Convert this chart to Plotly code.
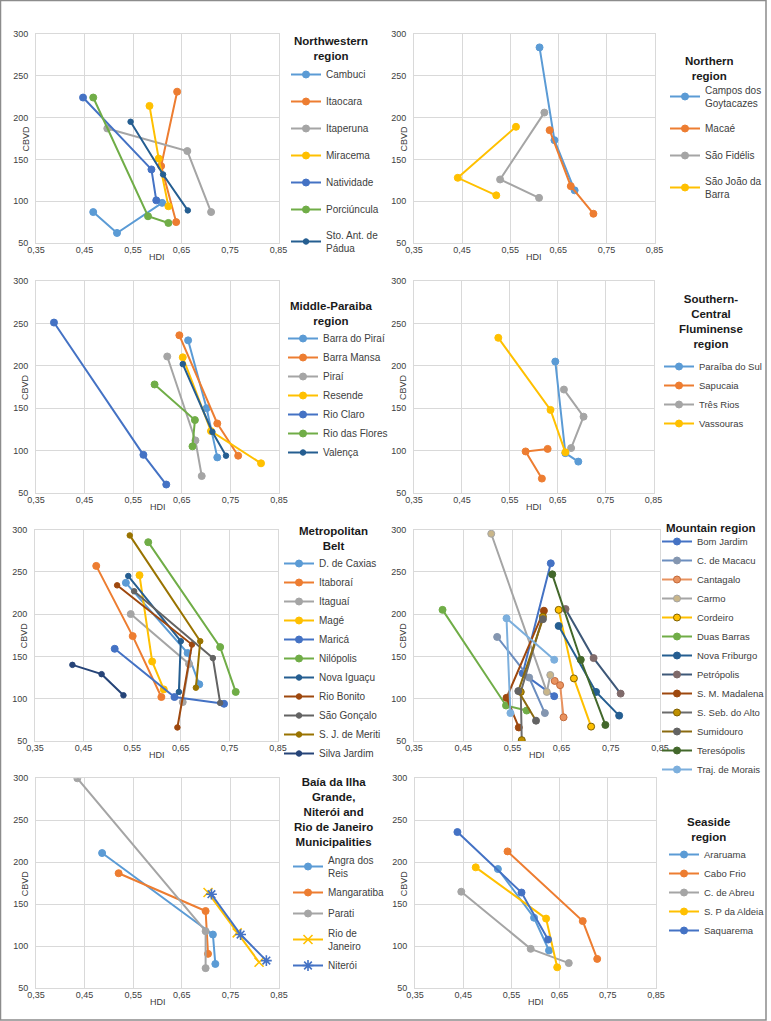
import plotly.graph_objects as go

# ---------------- data (HDI on x, CBVD on y; 3 points per municipality) ----------------
nw_names = ["Cambuci", "Itaocara", "Itaperuna", "Miracema", "Natividade", "Porciúncula", "Sto. Ant. de<br>Pádua"]
nw_hdi = [[0.468, 0.517, 0.610], [0.641, 0.608, 0.639], [0.497, 0.662, 0.711], [0.584, 0.603, 0.623],
          [0.447, 0.588, 0.598], [0.468, 0.581, 0.623], [0.545, 0.612, 0.663]]
nw_cbvd = [[87, 62, 98], [231, 142, 75], [187, 160, 87], [214, 151, 94],
           [224, 138, 101], [224, 82, 74], [195, 132, 89]]

no_names = ["Campos dos<br>Goytacazes", "Macaé", "São Fidélis", "São João da<br>Barra"]
no_hdi = [[0.611, 0.642, 0.684], [0.632, 0.676, 0.723], [0.621, 0.529, 0.610], [0.562, 0.441, 0.521]]
no_cbvd = [[284, 173, 113], [185, 118, 85], [206, 126, 104], [189, 128, 107]]

mp_names = ["Barra do Piraí", "Barra Mansa", "Piraí", "Resende", "Rio Claro", "Rio das Flores", "Valença"]
mp_hdi = [[0.663, 0.701, 0.723], [0.645, 0.723, 0.766], [0.620, 0.678, 0.691], [0.652, 0.710, 0.813],
          [0.387, 0.571, 0.618], [0.594, 0.677, 0.672], [0.652, 0.713, 0.741]]
mp_cbvd = [[230, 150, 92], [236, 132, 94], [211, 112, 70], [210, 123, 85],
           [251, 95, 60], [178, 136, 105], [202, 122, 94]]

sc_names = ["Paraíba do Sul", "Sapucaia", "Três Rios", "Vassouras"]
sc_hdi = [[0.645, 0.666, 0.693], [0.629, 0.583, 0.617], [0.663, 0.704, 0.678], [0.526, 0.635, 0.666]]
sc_cbvd = [[205, 97, 87], [102, 99, 67], [172, 140, 103], [233, 148, 98]]

mb_names = ["D. de Caxias", "Itaboraí", "Itaguaí", "Magé", "Maricá", "Nilópolis", "Nova Iguaçu",
            "Rio Bonito", "São Gonçalo", "S. J. de Meriti", "Silva Jardim"]
mb_hdi = [[0.537, 0.664, 0.688], [0.476, 0.551, 0.610], [0.547, 0.667, 0.654], [0.565, 0.591, 0.615],
          [0.514, 0.637, 0.739], [0.583, 0.731, 0.763], [0.542, 0.650, 0.646], [0.519, 0.673, 0.643],
          [0.554, 0.716, 0.731], [0.545, 0.690, 0.681], [0.427, 0.487, 0.532]]
mb_cbvd = [[237, 154, 117], [257, 174, 102], [200, 141, 96], [246, 144, 111], [159, 102, 94],
           [285, 161, 108], [245, 168, 108], [234, 164, 66], [227, 148, 95], [293, 168, 113],
           [140, 129, 104]]

mt_names = ["Bom Jardim", "C. de Macacu", "Cantagalo", "Carmo", "Cordeiro", "Duas Barras", "Nova Friburgo",
            "Petrópolis", "S. M. Madalena", "S. Seb. do Alto", "Sumidouro", "Teresópolis", "Traj. de Morais"]
mt_hdi = [[0.628, 0.571, 0.635], [0.519, 0.584, 0.616], [0.636, 0.647, 0.654], [0.507, 0.620, 0.627],
          [0.644, 0.675, 0.710], [0.408, 0.537, 0.579], [0.644, 0.720, 0.767], [0.658, 0.715, 0.770],
          [0.614, 0.538, 0.563], [0.612, 0.567, 0.569], [0.612, 0.562, 0.598], [0.631, 0.689, 0.739],
          [0.546, 0.538, 0.635]]
mt_cbvd = [[260, 130, 103], [173, 125, 83], [121, 116, 78], [295, 108, 128], [205, 124, 67],
           [205, 92, 86], [186, 108, 80], [206, 148, 106], [204, 101, 66], [197, 108, 51],
           [194, 109, 74], [247, 146, 69], [83, 195, 146]]

bg_names = ["Angra dos<br>Reis", "Mangaratiba", "Parati", "Rio de<br>Janeiro", "Niterói"]
bg_hdi = [[0.486, 0.714, 0.719], [0.520, 0.699, 0.704], [0.435, 0.699, 0.699],
          [0.704, 0.764, 0.809], [0.711, 0.771, 0.824]]
bg_cbvd = [[211, 114, 79], [187, 142, 91], [300, 118, 74], [164, 116, 81], [162, 114, 83]]

ss_names = ["Araruama", "Cabo Frio", "C. de Abreu", "S. P da Aldeia", "Saquarema"]
ss_hdi = [[0.522, 0.597, 0.628], [0.542, 0.698, 0.728], [0.446, 0.590, 0.669],
          [0.476, 0.622, 0.645], [0.438, 0.571, 0.626]]
ss_cbvd = [[192, 134, 95], [213, 130, 85], [165, 97, 80], [194, 133, 75], [236, 164, 108]]

x_ticks = [0.35, 0.45, 0.55, 0.65, 0.75, 0.85]
x_ticktext = ["0,35", "0,45", "0,55", "0,65", "0,75", "0,85"]
y_ticks = [50, 100, 150, 200, 250, 300]

# ---------------- styles ----------------
BASE = ["#5B9BD5", "#ED7D31", "#A5A5A5", "#FFC000", "#4472C4", "#70AD47"]
DARK = ["#255E91", "#9E480E", "#636363", "#997300", "#264478", "#43682B"]
MT_LINE = ["#4472C4", "#6C8EBF", "#E8925F", "#A5A5A5", "#FFC000", "#70AD47", "#255E91",
           "#3E5878", "#9E480E", "#6B6B6B", "#8A6A10", "#43682B", "#7CAFDD"]
MT_MARK = ["#4472C4", "#8496B0", "#E8925F", "#C9B68A", "#FFC000", "#70AD47", "#255E91",
           "#7F6A6A", "#9E480E", "#BF9000", "#636363", "#43682B", "#7CAFDD"]
MT_EDGE = ["#4472C4", "#8496B0", "#C46A3A", "#A5A5A5", "#7F6000", "#70AD47", "#255E91",
           "#7F6A6A", "#9E480E", "#7F6000", "#636363", "#43682B", "#7CAFDD"]

W, H = 771, 1021
FONT = "Liberation Sans, Arial, sans-serif"
TXT = "#404040"


def px(v):
    return v / W


def py(v):
    return 1 - v / H


panels = [
    dict(n=nw_names, x=nw_hdi, y=nw_cbvd, lc=BASE + DARK[:1], xd=(36, 278.5), yd=(34, 243),
         title="Northwestern<br>region", tpos=(331, 49), lpos=(286, 60), gap=8, lf=10),
    dict(n=no_names, x=no_hdi, y=no_cbvd, lc=BASE[:4], xd=(414, 654.5), yd=(34, 243),
         title="Northern<br>region", tpos=(709, 68), lpos=(665, 77), gap=8, lf=10),
    dict(n=mp_names, x=mp_hdi, y=mp_cbvd, lc=BASE + DARK[:1], xd=(36, 279), yd=(281, 493),
         title="Middle-Paraiba<br>region", tpos=(331, 313), lpos=(283, 324), gap=0, lf=10),
    dict(n=sc_names, x=sc_hdi, y=sc_cbvd, lc=BASE[:4], xd=(414, 653.5), yd=(281, 493),
         title="Southern-<br>Central<br>Fluminense<br>region", tpos=(711, 321.5), lpos=(659, 352), gap=0, lf=9.5),
    dict(n=mb_names, x=mb_hdi, y=mb_cbvd, lc=BASE + DARK[:5], xd=(35, 278), yd=(529.5, 741),
         title="Metropolitan<br>Belt", tpos=(333, 538), lpos=(279, 549), gap=0, lf=10),
    dict(n=mt_names, x=mt_hdi, y=mt_cbvd, lc=MT_LINE, mc=MT_MARK, ec=MT_EDGE, xd=(414, 660),
         yd=(529.5, 741), title="Mountain region", tpos=(710, 528), lpos=(657, 527), gap=0, lf=9.5),
    dict(n=bg_names, x=bg_hdi, y=bg_cbvd, lc=BASE[:3] + ["#FFC000", "#4472C4"], xd=(36, 279),
         yd=(778.3, 988.3), title="Baía da Ilha<br>Grande,<br>Niterói and<br>Rio de Janeiro<br>Municipalities",
         tpos=(333, 812), lpos=(288, 847), gap=2, lf=10,
         sym=["circle", "circle", "circle", "x-thin-open", "asterisk-open"]),
    dict(n=ss_names, x=ss_hdi, y=ss_cbvd, lc=BASE[:4] + ["#4472C4"], xd=(415, 656),
         yd=(778.3, 988.3), title="Seaside<br>region", tpos=(708, 829), lpos=(664, 840), gap=0, lf=9.5),
]

fig = go.Figure()
layout = dict(width=W, height=H, margin=dict(l=0, r=0, t=0, b=0, autoexpand=False),
              paper_bgcolor="white", plot_bgcolor="white",
              font=dict(family=FONT, size=10, color=TXT),
              annotations=[], shapes=[])

for i, p in enumerate(panels):
    k = i + 1
    sfx = "" if k == 1 else str(k)
    leg = "legend" if k == 1 else "legend%d" % k
    n = len(p["n"])
    mc = p.get("mc", p["lc"])
    ec = p.get("ec", p["lc"])
    sym = p.get("sym", ["circle"] * n)
    for j in range(n):
        small = j >= 6 and "mc" not in p
        s = sym[j]
        if s.startswith("x") or s.startswith("asterisk"):
            marker = dict(symbol=s, size=9, color=p["lc"][j], line=dict(color=p["lc"][j], width=1.6))
        else:
            marker = dict(symbol="circle", size=5.5 if small else 7, color=mc[j],
                          line=dict(color=ec[j], width=1))
        fig.add_trace(go.Scatter(
            x=p["x"][j], y=p["y"][j], mode="lines+markers", name=p["n"][j],
            line=dict(color=p["lc"][j], width=2), marker=marker,
            xaxis="x" + sfx, yaxis="y" + sfx, legend=leg,
            legendgroup="g%d_%d" % (k, j), showlegend=True, hoverinfo="x+y+name"))
    layout["xaxis" + sfx] = dict(
        domain=[px(p["xd"][0]), px(p["xd"][1])], range=[0.35, 0.85], anchor="y" + sfx,
        tickvals=x_ticks, ticktext=x_ticktext, showgrid=True, gridcolor="#d9d9d9", gridwidth=1,
        zeroline=False, showline=True, linecolor="#d9d9d9", mirror=True, ticks="", automargin=False,
        ticklabelstandoff=-2, tickfont=dict(size=9, color=TXT), fixedrange=True)
    layout["yaxis" + sfx] = dict(
        domain=[py(p["yd"][1]), py(p["yd"][0])], range=[50, 300], anchor="x" + sfx,
        tickvals=y_ticks, showgrid=True, gridcolor="#d9d9d9", gridwidth=1, automargin=False,
        zeroline=False, showline=True, linecolor="#d9d9d9", mirror=True, ticks="",
        ticklabelstandoff=5, tickfont=dict(size=9, color=TXT), fixedrange=True)
    layout[leg] = dict(x=px(p["lpos"][0]), y=py(p["lpos"][1]), xanchor="left", yanchor="top",
                       bgcolor="rgba(0,0,0,0)", font=dict(size=p["lf"], color=TXT, family=FONT),
                       itemwidth=30, tracegroupgap=p["gap"], itemclick=False, itemdoubleclick=False)
    # legend title
    layout["annotations"].append(dict(
        x=px(p["tpos"][0]), y=py(p["tpos"][1]), xref="paper", yref="paper",
        text="<b>" + p["title"] + "</b>", showarrow=False, align="center",
        xanchor="center", yanchor="middle", font=dict(size=11.5, color="#1a1a1a", family=FONT)))
    # axis titles
    xc = (p["xd"][0] + p["xd"][1]) / 2
    yc = (p["yd"][0] + p["yd"][1]) / 2
    layout["annotations"].append(dict(
        x=px(xc), y=py(p["yd"][1] + 14), xref="paper", yref="paper", text="HDI", showarrow=False,
        xanchor="center", yanchor="middle", font=dict(size=9, color=TXT)))
    layout["annotations"].append(dict(
        x=px(p["xd"][0] - 11), y=py(yc), xref="paper", yref="paper", text="CBVD", showarrow=False,
        textangle=-90, xanchor="center", yanchor="middle", font=dict(size=9, color=TXT)))

layout["shapes"].append(dict(type="rect", xref="paper", yref="paper",
                             x0=px(0.5), x1=px(766), y0=py(1020), y1=py(0.5),
                             line=dict(color="#8c8c8c", width=1.5)))
fig.update_layout(**layout)
fig.write_html("out.html", config={"displayModeBar": False},
               post_script="document.body.style.margin='0';")
